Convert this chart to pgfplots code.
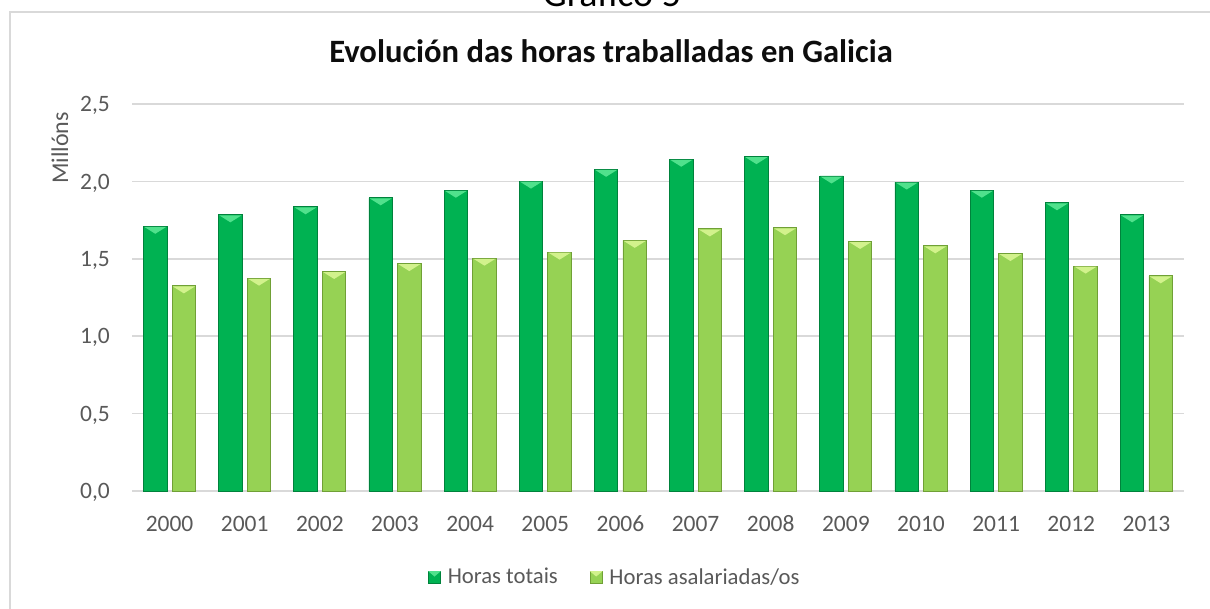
\documentclass[border=0pt]{standalone}
\usepackage{pgfplots}
\pgfplotsset{compat=1.18}
\usepackage{fontspec}
\setmainfont{Carlito}
\definecolor{dg}{RGB}{0,178,82}
\definecolor{dgE}{RGB}{0,130,60}
\definecolor{dgH}{RGB}{80,225,140}
\definecolor{lg}{RGB}{150,210,84}
\definecolor{lgE}{RGB}{112,160,54}
\definecolor{lgH}{RGB}{210,242,140}
\definecolor{gridc}{RGB}{217,217,217}
\definecolor{txt}{RGB}{89,89,89}
\pgfdeclareplotmark{bevL}{%
  \pgfpathmoveto{\pgfpoint{-25.3pt}{-0.6pt}}%
  \pgfpathlineto{\pgfpoint{-3.3pt}{-0.6pt}}%
  \pgfpathlineto{\pgfpoint{-14.3pt}{-7.5pt}}%
  \pgfpathclose\pgfusepathqfill}
\pgfdeclareplotmark{bevR}{%
  \pgfpathmoveto{\pgfpoint{3.3pt}{-0.6pt}}%
  \pgfpathlineto{\pgfpoint{25.3pt}{-0.6pt}}%
  \pgfpathlineto{\pgfpoint{14.3pt}{-7.5pt}}%
  \pgfpathclose\pgfusepathqfill}
\pgfplotstableread{
x tot asal
0 1.710 1.325
1 1.784 1.375
2 1.836 1.418
3 1.894 1.469
4 1.943 1.504
5 2.002 1.543
6 2.078 1.619
7 2.143 1.693
8 2.160 1.701
9 2.035 1.612
10 1.996 1.584
11 1.943 1.534
12 1.862 1.453
13 1.784 1.390
}\datatab
\begin{document}
\begin{tikzpicture}
\useasboundingbox (0,0) rectangle (1210pt,608pt);
\clip (0,0) rectangle (1210pt,608pt);
\draw[gridc, line width=2pt] (10pt,-10pt) rectangle (1240pt,596pt);
\node[anchor=base, inner sep=0pt, font=\fontsize{38}{40}\selectfont] at (612pt,601pt) {Gráfico 5};
\node[anchor=base, inner sep=0pt, font=\bfseries\fontsize{32.6}{34}\selectfont, text={rgb,255:red,13;green,13;blue,13}] at (611pt,545pt) {Evolución das horas traballadas en Galicia};
\node[rotate=90, anchor=center, inner sep=0pt, font=\fontsize{24}{26}\selectfont, text=txt] at (60pt,460pt) {Millóns};
\begin{axis}[
  at={(132pt,117pt)}, anchor=south west,
  scale only axis, width=1052pt, height=387pt,
  xmin=-0.5, xmax=13.5, ymin=0, ymax=2.5,
  axis line style={draw=none},
  major tick length=0pt,
  ymajorgrids, grid style={gridc, line width=1.6pt},
  xtick={0,...,13},
  xticklabels={2000,2001,2002,2003,2004,2005,2006,2007,2008,2009,2010,2011,2012,2013},
  ytick={0,0.5,1,1.5,2,2.5},
  /pgf/number format/.cd, fixed, fixed zerofill, precision=1, use comma, assume math mode=true,
  /pgfplots/.cd,
  ticklabel style={font=\fontsize{23.5}{26}\selectfont, text=txt, inner sep=0pt},
  xticklabel style={anchor=base, yshift=-40pt},
  yticklabel style={anchor=base east, xshift=-22pt, yshift=-7.7pt},
  legend style={at={(0.459,-0.222)}, anchor=center, draw=none, fill=none,
    font=\fontsize{22.7}{25}\selectfont, text=txt,
    /tikz/every odd column/.append style={column sep=5pt},
    /tikz/every even column/.append style={column sep=30pt}},
  legend columns=2,
  legend cell align=left,
]
\addplot[ybar, bar width=23.5pt, bar shift=-14.3pt, draw=dgE, line width=0.9pt, fill=dg,
  legend image code/.code={\draw[fill=dg, draw=dgE, line width=0.6pt] (0pt,-6pt) rectangle (12pt,6pt);
    \fill[dgH] (0.8pt,5.4pt) -- (11.2pt,5.4pt) -- (6pt,1pt) -- cycle;}]
  table[x=x, y=tot] {\datatab};
\addlegendentry{Horas totais}
\addplot[ybar, bar width=23.5pt, bar shift=14.3pt, draw=lgE, line width=0.9pt, fill=lg,
  legend image code/.code={\draw[fill=lg, draw=lgE, line width=0.6pt] (0pt,-6pt) rectangle (12pt,6pt);
    \fill[lgH] (0.8pt,5.4pt) -- (11.2pt,5.4pt) -- (6pt,1pt) -- cycle;}]
  table[x=x, y=asal] {\datatab};
\addlegendentry{Horas asalariadas/os}
\addplot[only marks, mark=bevL, mark options={fill=dgH, draw=none}, forget plot]
  table[x=x, y=tot] {\datatab};
\addplot[only marks, mark=bevR, mark options={fill=lgH, draw=none}, forget plot]
  table[x=x, y=asal] {\datatab};
\end{axis}
\end{tikzpicture}
\end{document}
